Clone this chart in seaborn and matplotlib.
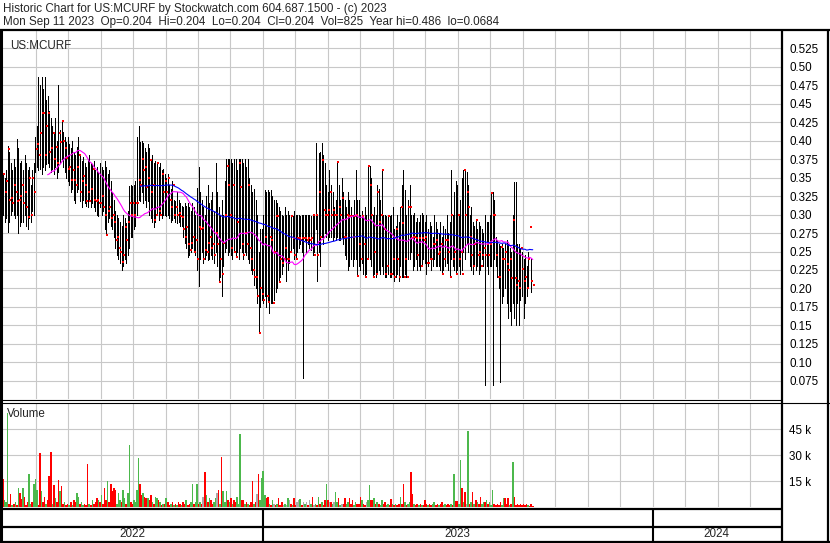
import numpy as np
import pandas as pd
import seaborn as sns
import matplotlib
matplotlib.use("Agg")
import matplotlib.pyplot as plt

# daily bars, one row per month of the chart (about 21 trading days each)
high = [
    .355, .350, .360, .393, .385, .370, .360, .375, .365, .402, .390, .370, .372, .360, .380, .370, .360, .365, .340, .360, .370,
    .405, .420, .486, .475, .486, .470, .486, .455, .460, .440, .430, .420, .410, .430, .400, .475, .415, .427, .412, .405, .398,
    .405, .395, .390, .400, .385, .380, .392, .405, .380, .372, .378, .370, .365, .375, .380, .370, .368, .372, .360, .365, .358,
    .370, .365, .360, .372, .365, .355, .360, .345, .330, .320, .305, .300, .295, .290, .285, .300, .295, .288, .305, .338, .340,
    .338, .340, .345, .405, .420, .398, .400, .397, .390, .385, .395, .390, .375, .380, .370, .372, .368, .365, .370, .360, .362,
    .355, .350, .355, .340, .335, .345, .320, .318, .330, .320, .315, .312, .310, .316, .312, .316, .310, .305, .316, .310, .300,
    .336, .364, .330, .320, .310, .300, .325, .340, .315, .320, .330, .305, .370, .330, .310, .300, .320, .300, .345, .375, .375,
    .375, .375, .370, .375, .375, .360, .375, .375, .375, .370, .375, .365, .375, .350, .340, .330, .335, .320, .300, .250, .280,
    .280, .300, .333, .330, .333, .330, .333, .325, .320, .320, .315, .310, .305, .300, .298, .310, .300, .305, .300, .300, .298,
    .305, .300, .300, .300, .298, .300, .300, .300, .300, .300, .300, .298, .300, .300, .397, .300, .383, .385, .397, .380, .370,
    .340, .330, .360, .340, .330, .310, .320, .371, .340, .320, .350, .330, .320, .310, .330, .320, .310, .300, .320, .360, .320,
    .320, .300, .305, .300, .310, .300, .366, .366, .350, .300, .310, .300, .340, .335, .320, .360, .300, .300, .298, .300, .298,
    .300, .310, .280, .285, .300, .290, .310, .340, .360, .333, .300, .320, .340, .300, .300, .302, .290, .295, .290, .300, .302,
    .300, .290, .300, .280, .290, .285, .270, .300, .290, .280, .275, .290, .270, .285, .280, .300, .275, .290, .360, .300, .330,
    .345, .340, .300, .320, .350, .360, .360, .358, .340, .300, .310, .290, .285, .292, .280, .290, .285, .280, .275, .300, .290,
    .290, .300, .330, .330, .320, .270, .265, .260, .257, .260, .255, .260, .265, .260, .255, .250, .300, .344, .344, .260, .260,
    .255, .250, .240, .245, .230, .250, .283, .240, .204,
]
low = [
    .300, .290, .295, .277, .290, .300, .305, .300, .295, .300, .275, .285, .290, .290, .300, .285, .280, .295, .290, .305, .300,
    .357, .365, .360, .362, .355, .365, .360, .368, .370, .365, .358, .362, .355, .365, .350, .357, .370, .375, .365, .358, .350,
    .345, .340, .330, .335, .320, .315, .330, .335, .318, .310, .320, .315, .312, .310, .318, .310, .315, .310, .305, .300, .298,
    .310, .300, .305, .280, .272, .290, .295, .285, .280, .270, .255, .245, .240, .235, .225, .230, .240, .235, .245, .255, .270,
    .270, .280, .285, .300, .320, .318, .330, .315, .320, .310, .318, .300, .295, .290, .283, .290, .300, .292, .300, .295, .300,
    .300, .298, .300, .295, .290, .292, .295, .290, .288, .290, .285, .285, .270, .262, .255, .243, .245, .250, .255, .252, .245,
    .225, .203, .240, .250, .235, .240, .245, .238, .240, .245, .240, .235, .250, .230, .209, .215, .190, .230, .250, .255, .245,
    .250, .245, .240, .250, .245, .250, .240, .255, .250, .240, .250, .245, .240, .235, .225, .220, .205, .200, .180, .140, .175,
    .185, .180, .190, .175, .182, .167, .180, .180, .185, .195, .200, .209, .215, .220, .230, .240, .210, .225, .235, .250, .255,
    .240, .240, .250, .255, .260, .250, .079, .265, .250, .260, .255, .252, .245, .250, .280, .210, .250, .230, .270, .260, .275,
    .270, .265, .270, .270, .265, .270, .265, .270, .265, .265, .270, .260, .245, .240, .225, .230, .240, .230, .240, .240, .220,
    .230, .225, .235, .220, .216, .220, .240, .240, .230, .216, .220, .215, .220, .225, .220, .230, .220, .215, .215, .220, .215,
    .215, .220, .210, .215, .220, .210, .230, .216, .216, .220, .216, .240, .240, .250, .225, .230, .240, .225, .230, .225, .230,
    .240, .235, .220, .230, .240, .225, .230, .240, .230, .230, .230, .225, .220, .225, .230, .235, .225, .216, .240, .230, .225,
    .220, .225, .230, .220, .225, .250, .240, .260, .250, .230, .225, .220, .230, .225, .230, .220, .225, .240, .230, .069, .230,
    .220, .230, .230, .069, .240, .230, .215, .200, .073, .180, .190, .200, .180, .160, .170, .150, .180, .160, .150, .180, .150,
    .185, .190, .160, .180, .190, .200, .283, .195, .204,
]
close = [
    .355, .330, .345, .389, .320, .322, .316, .340, .330, .318, .320, .325, .340, .316, .330, .310, .297, .350, .300, .350, .330,
    .389, .395, .380, .410, .437, .437, .380, .420, .437, .384, .390, .410, .375, .392, .370, .410, .398, .427, .400, .390, .376,
    .362, .365, .347, .360, .347, .340, .365, .380, .330, .345, .352, .340, .318, .330, .318, .335, .362, .320, .318, .320, .315,
    .316, .325, .310, .300, .272, .305, .310, .295, .300, .290, .265, .270, .255, .250, .236, .245, .283, .265, .290, .316, .300,
    .316, .300, .316, .316, .347, .340, .375, .360, .365, .337, .350, .374, .330, .340, .293, .300, .370, .305, .300, .355, .330,
    .345, .330, .350, .320, .310, .340, .300, .310, .300, .302, .298, .297, .280, .270, .283, .260, .252, .262, .270, .250, .265,
    .240, .283, .280, .282, .240, .252, .250, .262, .270, .255, .260, .245, .275, .260, .209, .240, .220, .262, .300, .366, .340,
    .300, .255, .340, .250, .243, .290, .370, .337, .260, .245, .275, .260, .340, .255, .240, .225, .215, .215, .190, .140, .200,
    .193, .185, .270, .190, .182, .270, .265, .180, .250, .298, .298, .209, .240, .235, .240, .255, .240, .240, .250, .298, .268,
    .245, .240, .268, .268, .265, .268, .268, .268, .265, .268, .265, .268, .300, .245, .300, .245, .330, .270, .374, .306, .300,
    .300, .306, .330, .300, .306, .300, .300, .371, .310, .300, .322, .270, .270, .300, .298, .298, .298, .270, .298, .300, .217,
    .260, .240, .298, .260, .216, .240, .366, .340, .300, .216, .250, .220, .330, .290, .300, .360, .280, .220, .230, .298, .220,
    .219, .240, .215, .280, .240, .215, .310, .289, .216, .240, .216, .310, .310, .268, .270, .270, .268, .245, .268, .230, .268,
    .265, .270, .235, .235, .240, .240, .260, .260, .265, .246, .250, .260, .220, .240, .265, .265, .250, .216, .300, .240, .250,
    .220, .300, .240, .250, .220, .360, .300, .330, .310, .270, .245, .230, .260, .292, .245, .250, .230, .245, .255, .245, .260,
    .245, .260, .329, .300, .300, .245, .215, .216, .256, .240, .240, .250, .233, .225, .240, .214, .292, .214, .205, .210, .200,
    .255, .227, .210, .215, .200, .240, .283, .210, .204,
]
# volume in thousands of shares
volume_k = [
    16, 4, 3, 54, 2, 7.5, 1, 2, 3, 1, 11, 8, 4.5, 11, 6, 1, 3, 19, 2, 3, 13,
    16, 10, 1, 31, 9, 3, 6, 2, 4, 18, 32, 2, 12.7, 5, 3, 15.5, 9, 12, 2, 3, 1,
    2, 1, 3, 1, 4, 3, 8, 6, 2, 3, 1, 2, 1, 25, 2, 1, 4, 2, 3, 5, 4,
    3, 7, 2, 11, 4, 15, 3, 13, 9, 11, 10, 2, 8, 4, 3, 10, 5, 2, 8, 36, 3,
    2, 4, 3, 10, 28, 13, 7, 8, 6, 5, 5, 4, 7, 3, 2, 6, 5, 4, 3, 1, 2,
    2, 5, 3, 1, 2, 3, 1, 2, 1, 3, 2, 1, 3, 2, 4, 1, 2, 3, 13, 2, 3,
    13, 2, 3, 2, 6, 20, 7, 3, 5, 4, 2, 3, 5, 8, 10, 2, 29, 9, 3, 9, 4,
    3, 5, 2, 4, 3, 6, 2, 42, 4, 4, 2, 3, 2, 1, 3, 15, 2, 3, 7.5, 19, 4,
    17, 21, 7, 5, 6, 2, 1, 4, 2, 1, 2, 5, 1, 3, 1, 2, 1, 5, 4, 2, 1,
    5, 1, 3, 4, 4.5, 1, 3, 2, 3, 1, 4, 2, 5.5, 1, 2, 1, 6, 2, 3, 1, 4,
    13.5, 4, 3, 3, 2, 3, 8.5, 3, 5, 1, 2, 2, 5, 2, 3, 5, 2, 4, 1, 3, 2,
    2, 5.5, 4, 2, 1, 3, 4, 12.5, 4, 4, 5, 2, 3, 2, 1, 4, 2, 3, 1, 2, 1,
    4.5, 2, 1, 2, 1, 2, 6, 2, 13.5, 3, 1, 2, 3, 20, 7.5, 2, 1, 2, 1, 2, 1,
    1, 4, 2, 1, 2, 1, 2, 3, 1, 2, 1, 2, 3, 1, 2, 1, 2, 1, 2, 1, 19,
    3.5, 3.5, 2, 27, 11, 3, 8.5, 2, 44, 2, 3, 8.5, 2, 4, 3, 2, 6, 2, 3, 3, 4,
    2, 3, 1, 10, 2, 1, 2, 1, 3, 1, 5, 5, 2, 5, 1, 2, 26, 5.5, 1, 2, 1,
    2, 1, 2, 1, 1.5, 1, 0.5, 1.5, 0.825,
]
# g = up day, r = down day, n = unchanged
vol_dir = [
    "rgggrrgrgrgrrgrrrggrg", "ggrrgrrgrrrgrgrrgrrgr", "rgrgrrggrggrrrgrgrrrg",
    "rgrrrgrrrrrgggrggrggr", "rggggrrgrrgrrgrggrgrg", "rgrrgrgrgrrgrrgrrggrg",
    "grgrnrgrgrrggnrgrgggr", "grgrrgggrrgrgrrrgrnrg", "gggrrgrgnrgrrrngngnrg",
    "rrnngrngnrngrngrgrgrr", "grnrgnggrgnrrggrrrggr", "rrgrrnggrrgrgrggrrggr",
    "rgrgrrgrrgrggrrgrrgrg", "rrrgrrggrrgrrggrrrgrg", "rrggrgrngrgrgrgrrggrg",
    "rgggrrrrrggrrrgrgrrrr", "rrrrrgrrr",
]
years = ["2022", "2023", "2024"]
price_ticks = [0.075, 0.10, 0.125, 0.15, 0.175, 0.20, 0.225, 0.25, 0.275, 0.30,
               0.325, 0.35, 0.375, 0.40, 0.425, 0.45, 0.475, 0.50, 0.525]
vol_ticks = [15, 30, 45]

title1 = "Historic Chart for US:MCURF by Stockwatch.com 604.687.1500 - (c) 2023"
title2 = ("Mon Sep 11 2023  Op=0.204  Hi=0.204  Lo=0.204  Cl=0.204  Vol=825  "
          "Year hi=0.486  lo=0.0684")

df = pd.DataFrame({"high": high, "low": low, "close": close, "vol": volume_k})
df["i"] = np.arange(len(df))
df["dir"] = list("".join(vol_dir))
df["ma30"] = df["close"].rolling(30).mean()
df["ma90"] = df["close"].rolling(90).mean()

sns.set_style("white")
plt.rcParams["font.family"] = ["Liberation Sans", "DejaVu Sans"]
FS = 8.4

W, H = 830, 543
fig = plt.figure(figsize=(W / 100, H / 100), dpi=100)


def rect(x0, y0, x1, y1):
    return [x0 / W, 1 - y1 / H, (x1 - x0) / W, (y1 - y0) / H]


XMIN, XMAX = -0.65, 505.2
year_start = [168.8, 421.8]          # bar positions of Jan 1
month = (year_start[1] - year_start[0]) / 12
month_lines = year_start[0] + month * np.arange(-7, 16)
grid_c = "#c8c8c8"

# ---- price panel ----
ax = fig.add_axes(rect(2, 31, 781, 399))
ax.set_xlim(XMIN, XMAX)
ax.set_ylim(0.0504, 0.5484)
for m in month_lines:
    ax.axvline(m, color=grid_c, lw=0.8, zorder=0)
ax.set_yticks(price_ticks)
ax.set_yticklabels([f"{v:.3f}"[:-1] if f"{v:.3f}".endswith("0") else f"{v:.3f}"
                    for v in price_ticks])
ax.yaxis.tick_right()
ax.tick_params(axis="y", length=0, pad=6, labelsize=FS, colors="black")
ax.set_xticks([])
ax.grid(axis="y", color=grid_c, lw=0.8)
ax.set_axisbelow(True)
for s in ax.spines.values():
    s.set_visible(False)

ax.vlines(df["i"], df["low"], df["high"], color="black", lw=0.72,
          antialiased=False, zorder=2)
sns.scatterplot(x=df["i"] + 0.8, y=df["close"], marker="s", s=4.2, color="red",
                linewidth=0, ax=ax, zorder=3, legend=False)
sns.lineplot(x=df["i"], y=df["ma30"], color="#ff00ff", lw=0.8, ax=ax,
             estimator=None, errorbar=None, zorder=4)
sns.lineplot(x=df["i"], y=df["ma90"], color="#0000ff", lw=0.8, ax=ax,
             estimator=None, errorbar=None, zorder=4)
ax.set_xlabel("")
ax.set_ylabel("")
ax.text(0.011, 0.975, "US:MCURF", transform=ax.transAxes, fontsize=FS,
        ha="left", va="top")

# ---- volume panel ----
axv = fig.add_axes(rect(2, 403, 781, 507))
axv.set_xlim(XMIN, XMAX)
axv.set_ylim(0, 60)
for m in month_lines:
    axv.axvline(m, color=grid_c, lw=0.8, zorder=0)
axv.set_yticks(vol_ticks)
axv.set_yticklabels([f"{v} k" for v in vol_ticks])
axv.yaxis.tick_right()
axv.tick_params(axis="y", length=0, pad=6, labelsize=FS, colors="black")
axv.set_xticks([])
axv.grid(axis="y", color=grid_c, lw=0.8)
axv.set_axisbelow(True)
for s in axv.spines.values():
    s.set_visible(False)
colors = df["dir"].map({"g": "#4cb84c", "r": "#ff0000", "n": "#aaaaaa"})
axv.bar(df["i"], df["vol"], width=1.0, color=colors, linewidth=0,
        antialiased=False, zorder=2)
axv.text(0.007, 0.95, "Volume", transform=axv.transAxes, fontsize=FS,
         ha="left", va="top")

# ---- date strip ----
axd = fig.add_axes(rect(2, 510, 781, 541))
axd.set_xlim(XMIN, XMAX)
axd.set_ylim(0, 1)
axd.axis("off")
edges = [XMIN] + year_start + [XMAX]
for k, y in enumerate(years):
    axd.text((edges[k] + edges[k + 1]) / 2, 0.24, y, ha="center", va="center",
             fontsize=FS)
for b in year_start:
    axd.axvline(b, color="black", lw=1.5)

# ---- frame and header (pixel coordinates) ----
ov = fig.add_axes([0, 0, 1, 1], zorder=10)
ov.set_xlim(0, W)
ov.set_ylim(H, 0)
ov.axis("off")
ov.patch.set_alpha(0)
k = dict(color="black", solid_capstyle="butt")
ov.plot([0, W], [30, 30], lw=1.6, **k)
ov.plot([1, 1], [30, 542], lw=2.2, **k)
ov.plot([781.5, 781.5], [30, 542], lw=1.6, **k)
ov.plot([828, 828], [30, 542], lw=1.6, **k)
ov.plot([0, W], [541.5, 541.5], lw=1.6, **k)
ov.plot([0, 781], [399.5, 399.5], lw=0.8, **k)
ov.plot([0, W], [402.5, 402.5], lw=0.8, **k)
ov.plot([0, 781], [509, 509], lw=1.6, **k)
ov.plot([0, 781], [526.5, 526.5], lw=1.6, **k)
ov.text(3, 9, title1, fontsize=FS, ha="left", va="center")
ov.text(3, 22, title2, fontsize=FS, ha="left", va="center")

fig.savefig("out.png", dpi=100, facecolor="white")
